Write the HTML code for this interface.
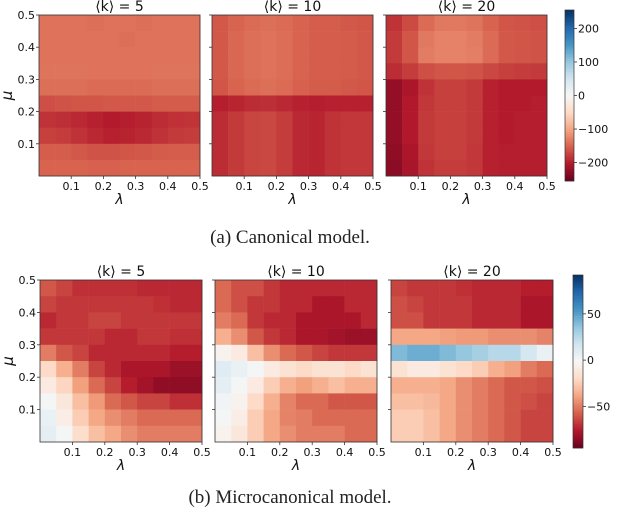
<!DOCTYPE html>
<html><head><meta charset="utf-8"><style>
body{margin:0;background:#fff;width:640px;height:517px;overflow:hidden}
svg{display:block}
text{font-family:"DejaVu Sans","Liberation Sans",sans-serif}
text.cap{font-family:"Liberation Serif",serif}
</style></head><body>
<svg id="fig" width="640" height="517" viewBox="0 0 640 517" xmlns="http://www.w3.org/2000/svg"></svg>
<script>
// ---- data (rows: mu 0.5 -> 0 top to bottom; cols: lambda 0 -> 0.5) ----
const titles = ["⟨k⟩ = 5", "⟨k⟩ = 10", "⟨k⟩ = 20"];
const xTicks = [0.1, 0.2, 0.3, 0.4, 0.5];
const xTickLabels = ["0.1", "0.2", "0.3", "0.4", "0.5"];
const yTicks = [0.1, 0.2, 0.3, 0.4, 0.5];
const yTickLabels = ["0.1", "0.2", "0.3", "0.4", "0.5"];
const topCbarTicks = [200, 100, 0, -100, -200];
const topCbarLabels = ["200", "100", "0", "−100", "−200"];
const botCbarTicks = [50, 0, -50];
const botCbarLabels = ["50", "0", "−50"];

const canon5 = [
[-140,-140,-140,-142,-140,-140,-142,-140,-140,-140],
[-140,-140,-140,-140,-140,-142,-140,-140,-140,-140],
[-140,-140,-140,-140,-140,-140,-140,-140,-140,-140],
[-138,-138,-138,-140,-140,-140,-140,-138,-138,-138],
[-142,-142,-142,-145,-145,-145,-145,-142,-142,-142],
[-165,-162,-160,-160,-158,-158,-158,-156,-156,-156],
[-185,-188,-192,-198,-202,-200,-196,-190,-186,-184],
[-175,-178,-185,-192,-198,-196,-192,-185,-180,-178],
[-155,-155,-158,-162,-162,-160,-158,-156,-155,-155],
[-150,-150,-150,-152,-152,-150,-150,-150,-150,-150]];
const canon10 = [
[-158,-150,-145,-142,-145,-150,-155,-155,-158,-160],
[-158,-148,-142,-140,-143,-150,-155,-155,-156,-158],
[-158,-148,-142,-140,-143,-150,-155,-155,-156,-158],
[-158,-148,-142,-140,-143,-150,-155,-155,-156,-158],
[-160,-150,-145,-142,-145,-152,-156,-156,-158,-160],
[-200,-195,-190,-188,-192,-198,-200,-198,-198,-198],
[-190,-180,-172,-170,-178,-192,-195,-185,-182,-182],
[-190,-180,-172,-170,-178,-192,-195,-185,-182,-182],
[-190,-180,-172,-170,-178,-192,-195,-185,-182,-182],
[-190,-180,-172,-170,-178,-192,-195,-185,-182,-182]];
const canon20 = [
[-185,-168,-145,-135,-135,-138,-150,-160,-162,-165],
[-180,-160,-135,-128,-128,-132,-145,-158,-160,-162],
[-180,-160,-132,-128,-128,-130,-145,-158,-160,-162],
[-190,-178,-165,-160,-160,-162,-170,-176,-178,-180],
[-225,-208,-185,-175,-175,-180,-198,-202,-202,-202],
[-225,-205,-182,-175,-175,-180,-198,-202,-202,-200],
[-225,-205,-180,-175,-175,-180,-198,-202,-200,-200],
[-225,-205,-180,-175,-175,-180,-198,-202,-200,-200],
[-228,-208,-182,-176,-176,-182,-198,-200,-200,-200],
[-230,-210,-185,-178,-178,-182,-198,-200,-200,-200]];
const micro5 = [
[-60,-65,-70,-70,-70,-70,-72,-72,-72,-72],
[-65,-68,-68,-68,-68,-68,-68,-70,-72,-72],
[-72,-68,-68,-65,-65,-68,-68,-68,-68,-68],
[-68,-68,-68,-68,-72,-72,-68,-68,-70,-70],
[-50,-60,-65,-72,-72,-72,-72,-72,-75,-75],
[-20,-35,-50,-65,-72,-78,-78,-78,-82,-82],
[-10,-22,-40,-55,-65,-75,-80,-85,-85,-85],
[0,-12,-30,-42,-55,-60,-65,-65,-70,-70],
[5,-8,-25,-38,-45,-50,-55,-55,-55,-55],
[8,0,-18,-30,-38,-45,-50,-50,-50,-50]];
const micro10 = [
[-55,-62,-62,-68,-72,-72,-72,-72,-72,-72],
[-55,-62,-68,-68,-72,-72,-78,-78,-72,-72],
[-50,-55,-68,-72,-72,-78,-78,-78,-78,-72],
[-35,-45,-60,-68,-72,-78,-78,-80,-82,-82],
[-5,-10,-30,-45,-55,-60,-65,-68,-68,-68],
[10,5,0,-10,-15,-20,-15,-15,-20,-15],
[8,0,-10,-25,-35,-40,-35,-30,-35,-35],
[2,-5,-20,-35,-48,-55,-55,-60,-60,-60],
[0,-8,-25,-38,-48,-50,-55,-55,-55,-55],
[-5,-12,-25,-38,-45,-50,-50,-50,-55,-55]];
const micro20 = [
[-65,-68,-68,-68,-70,-72,-72,-72,-75,-75],
[-62,-65,-68,-68,-68,-72,-72,-72,-78,-78],
[-62,-62,-68,-68,-68,-72,-72,-72,-78,-78],
[-38,-38,-38,-40,-42,-42,-45,-45,-45,-48],
[40,45,45,40,35,30,25,25,15,5],
[-15,-10,-10,-15,-20,-25,-35,-40,-50,-55],
[-35,-35,-35,-38,-45,-50,-55,-60,-60,-62],
[-30,-30,-32,-38,-45,-50,-55,-60,-62,-65],
[-25,-25,-30,-38,-45,-50,-55,-60,-65,-65],
[-25,-25,-30,-38,-45,-50,-55,-60,-65,-65]];

// ---- rendering ----
const NS = "http://www.w3.org/2000/svg";
const svg = document.getElementById("fig");
function mk(tag, attrs, parent){const e=document.createElementNS(NS,tag);for(const k in attrs)e.setAttribute(k,attrs[k]);(parent||svg).appendChild(e);return e;}
const stops=[[103,0,31],[178,24,43],[214,96,77],[244,165,130],[253,219,199],[247,247,247],[209,229,240],[146,197,222],[67,147,195],[33,102,172],[5,48,97]];
function rdbu(t){t=Math.max(0,Math.min(1,t));const p=t*10,i=Math.min(9,Math.floor(p)),f=p-i;const a=stops[i],b=stops[i+1];return `rgb(${a.map((v,k)=>Math.round(v+(b[k]-v)*f)).join(",")})`;}

function panel(cfg, data, title, showY, rowName, idx){
  const g=mk("g",{});
  
  
  const {x0,y0,w,h,vmin,vmax}=cfg;
  const sx=v=>x0+v/0.5*w, sy=v=>y0+h-v/0.5*h;
  const nr=data.length, nc=data[0].length;
  for(let r=0;r<nr;r++)for(let c=0;c<nc;c++){
    const muTop=0.5-r*0.5/nr, muBot=0.5-(r+1)*0.5/nr;
    const l0=c*0.5/nc, l1=(c+1)*0.5/nc;
    const cell=mk("rect",{x:sx(l0),y:sy(muTop),width:sx(l1)-sx(l0)+0.3,height:sy(muBot)-sy(muTop)+0.3,fill:rdbu((data[r][c]-vmin)/(vmax-vmin))},g);
    
    
  }
  const frame=mk("rect",{x:x0,y:y0,width:w,height:h,fill:"none",stroke:"#333","stroke-width":0.8},g);
  
  
  const t=mk("text",{x:x0+w/2,y:y0-4,"text-anchor":"middle","font-size":14,fill:"#111"},g);
  t.textContent=title;
  
  
  xTicks.forEach((v,i)=>{
    mk("line",{x1:sx(v),x2:sx(v),y1:y0+h,y2:y0+h+3,stroke:"#333","stroke-width":0.8},g);
    const tl=mk("text",{x:sx(v),y:y0+h+14,"text-anchor":"middle","font-size":11,fill:"#111"},g);
    tl.textContent=xTickLabels[i];
    
    
  });
  const xl=mk("text",{x:x0+w/2,y:y0+h+28,"text-anchor":"middle","font-size":14,"font-style":"italic",fill:"#111"},g);
  xl.textContent="λ";
  
  
  yTicks.forEach((v,i)=>{
    mk("line",{x1:x0-3,x2:x0,y1:sy(v),y2:sy(v),stroke:"#333","stroke-width":0.8},g);
    if(showY){
      const tl=mk("text",{x:x0-4,y:sy(v)+4,"text-anchor":"end","font-size":11,fill:"#111"},g);
      tl.textContent=yTickLabels[i];
      
      
    }
  });
  if(showY){
    const yl=mk("text",{x:0,y:0,"text-anchor":"middle","font-size":15,"font-style":"italic",fill:"#111",transform:`translate(${x0-27},${y0+h/2}) rotate(-90)`},g);
    yl.textContent="μ";
    
    
  }
}
function colorbar(x,y0,y1,w,vmin,vmax,ticks,labels,name){
  const g=mk("g",{});
  
  
  const n=80,hh=(y1-y0)/n;
  for(let i=0;i<n;i++){const v=vmax-(i+0.5)*(vmax-vmin)/n;mk("rect",{x:x,y:y0+i*hh,width:w,height:hh+0.3,fill:rdbu((v-vmin)/(vmax-vmin))},g);}
  mk("rect",{x:x,y:y0,width:w,height:y1-y0,fill:"none",stroke:"#333","stroke-width":0.7},g);
  const sy=v=>y1-(v-vmin)/(vmax-vmin)*(y1-y0);
  ticks.forEach((v,i)=>{
    mk("line",{x1:x+w,x2:x+w+3,y1:sy(v),y2:sy(v),stroke:"#333","stroke-width":0.8},g);
    const t=mk("text",{x:x+w+4,y:sy(v)+4,"font-size":11,fill:"#111"},g);
    t.textContent=labels[i];
    
    
  });
}
const topX=[39,212,386], botX=[40,215,391];
const topData=[canon5,canon10,canon20], botData=[micro5,micro10,micro20];
topData.forEach((d,i)=>panel({x0:topX[i],y0:15,w:161,h:161,vmin:-255,vmax:255},d,titles[i],i===0,'canonical',i));
botData.forEach((d,i)=>panel({x0:botX[i],y0:280,w:162,h:162,vmin:-95,vmax:92},d,titles[i],i===0,'microcanonical',i));
colorbar(565,10,181,9,-255,255,topCbarTicks,topCbarLabels,'canonical-colorbar');
colorbar(573,275,448,10,-95,92,botCbarTicks,botCbarLabels,'microcanonical-colorbar');

const capA=mk("text",{x:290,y:243,"text-anchor":"middle","font-size":19,fill:"#222","class":"cap"});
capA.textContent="(a) Canonical model.";


const capB=mk("text",{x:290,y:503,"text-anchor":"middle","font-size":19,fill:"#222","class":"cap"});
capB.textContent="(b) Microcanonical model.";


</script>
</body></html>
